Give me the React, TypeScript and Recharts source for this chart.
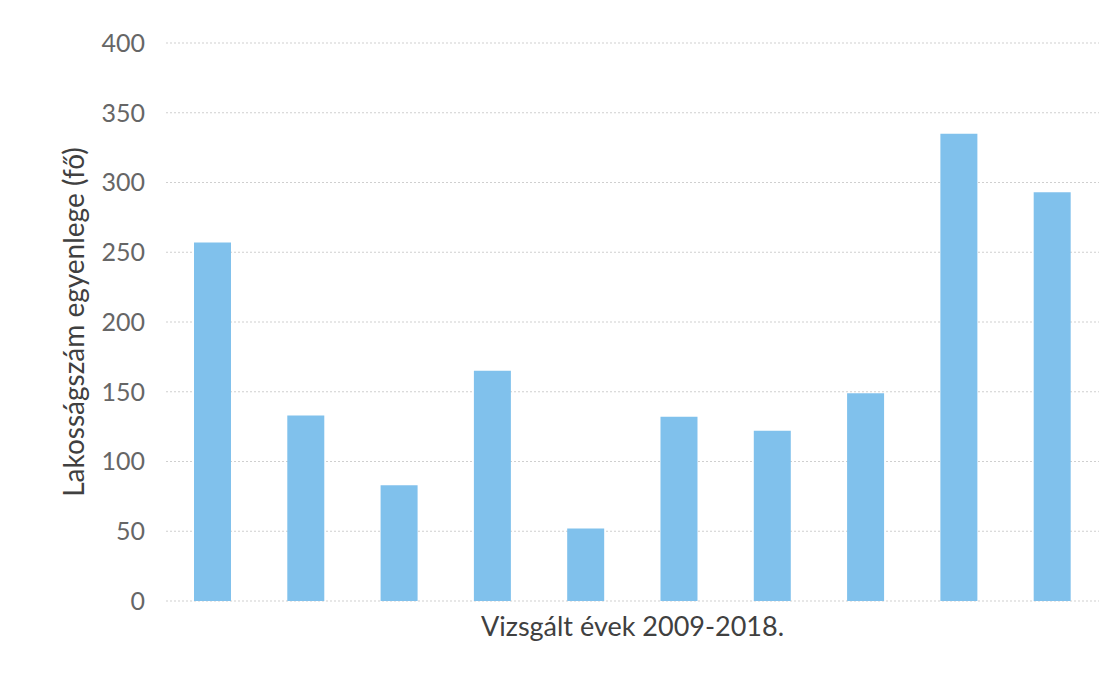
import { BarChart, Bar, XAxis, YAxis, CartesianGrid } from "recharts";

const years = ["2009", "2010", "2011", "2012", "2013", "2014", "2015", "2016", "2017", "2018"];
const balance = [257, 133, 83, 165, 52, 132, 122, 149, 335, 293];
const yTicks = [0, 50, 100, 150, 200, 250, 300, 350, 400];

const data = years.map((year, i) => ({ year, value: balance[i] }));

const font = "Lato, 'Open Sans', sans-serif";

export default function App() {
  return (
    <div style={{ position: "absolute", left: 0, top: 0, background: "white" }}>
      <BarChart
        width={1119}
        height={681}
        data={data}
        margin={{ top: 43, right: 20, bottom: 0, left: 0 }}
        barCategoryGap="30%"
      >
        <CartesianGrid
          vertical={false}
          stroke="#cfcfcf"
          strokeDasharray="2 2"
        />
        <XAxis
          dataKey="year"
          tick={false}
          tickLine={false}
          axisLine={false}
          height={80}
          label={{
            value: "Vizsgált évek 2009-2018.",
            position: "insideTop",
            offset: 16,
            fill: "#404040",
            fontSize: 27,
            fontFamily: font,
          }}
        />
        <YAxis
          width={166}
          domain={[0, 400]}
          ticks={yTicks}
          interval={0}
          tickLine={false}
          axisLine={false}
          tickSize={0}
          tickMargin={21}
          tick={{ fill: "#666666", fontSize: 25, fontFamily: font }}
          label={{
            value: "Lakosságszám egyenlege (fő)",
            angle: -90,
            position: "insideLeft",
            offset: 74,
            fill: "#404040",
            fontSize: 28,
            fontFamily: font,
            style: { textAnchor: "middle" },
          }}
        />
        <Bar dataKey="value" fill="#80c1ec" isAnimationActive={false} />
      </BarChart>
    </div>
  );
}
